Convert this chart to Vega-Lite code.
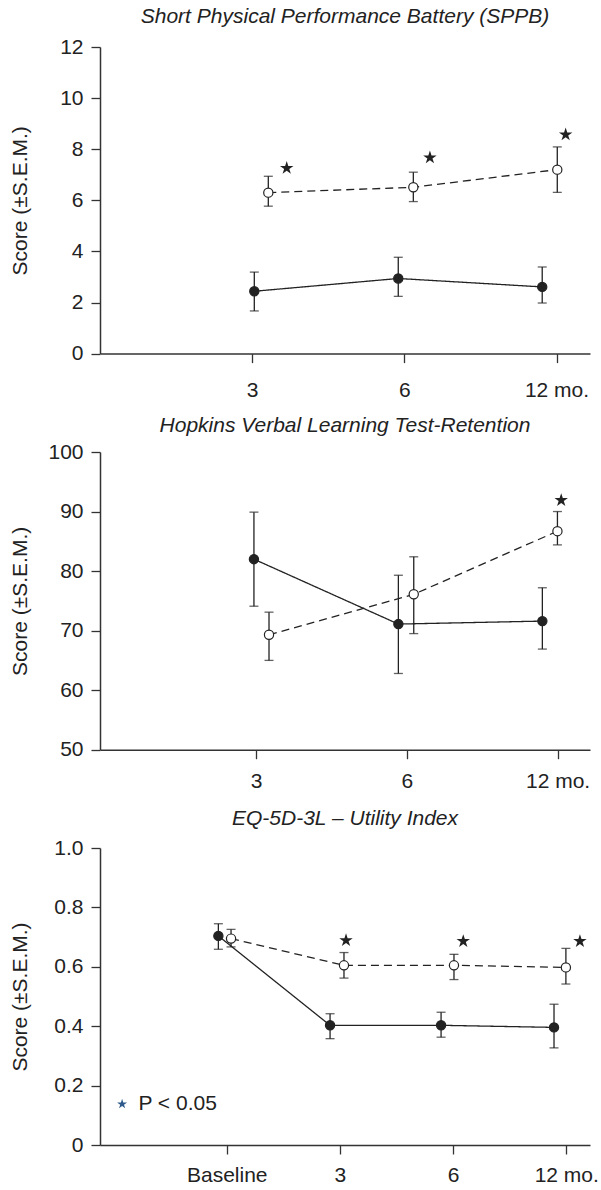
{
  "$schema": "https://vega.github.io/schema/vega-lite/v6.json",
  "background": "white",
  "padding": {"left": 9, "top": 5, "right": 5, "bottom": 0},
  "bounds": "flush",
  "spacing": 98,
  "config": {
    "font": "Liberation Sans",
    "view": {"stroke": null},
    "axis": {
      "grid": false,
      "domainColor": "#333333",
      "tickColor": "#333333",
      "domainWidth": 1.5,
      "tickWidth": 1.3,
      "tickSize": 9,
      "labelFont": "Liberation Sans",
      "titleFont": "Liberation Sans",
      "labelFontSize": 21,
      "titleFontSize": 21,
      "labelColor": "#222222",
      "titleColor": "#222222",
      "titleFontWeight": "normal"
    },
    "axisY": {"titleX": -74, "titleBaseline": "alphabetic", "labelPadding": 8},
    "axisX": {"labelFlush": false},
    "title": {"font": "Liberation Sans", "fontSize": 21, "fontStyle": "italic", "fontWeight": "normal", "color": "#222222", "anchor": "middle", "frame": "group"}
  },
  "resolve": {"scale": {"shape": "independent", "color": "independent"}, "legend": {"shape": "independent"}},
  "datasets": {
    "sppb": [
      {"g": "closed", "t": 1.014, "v": 2.44, "lo": 1.67, "hi": 3.19},
      {"g": "closed", "t": 1.960, "v": 2.94, "lo": 2.24, "hi": 3.77},
      {"g": "closed", "t": 2.906, "v": 2.61, "lo": 1.98, "hi": 3.39},
      {"g": "open", "t": 1.106, "v": 6.30, "lo": 5.77, "hi": 6.94},
      {"g": "open", "t": 2.059, "v": 6.51, "lo": 5.95, "hi": 7.10},
      {"g": "open", "t": 3.005, "v": 7.20, "lo": 6.31, "hi": 8.09}
    ],
    "sppb_sig": [
      {"t": 1.227, "v": 7.26},
      {"t": 2.168, "v": 7.67},
      {"t": 3.060, "v": 8.57}
    ],
    "hvlt": [
      {"g": "closed", "t": 0.986, "v": 82.0, "lo": 74.1, "hi": 89.9},
      {"g": "closed", "t": 1.944, "v": 71.1, "lo": 62.8, "hi": 79.3},
      {"g": "closed", "t": 2.899, "v": 71.6, "lo": 66.9, "hi": 77.2},
      {"g": "open", "t": 1.086, "v": 69.3, "lo": 65.0, "hi": 73.1},
      {"g": "open", "t": 2.046, "v": 76.1, "lo": 69.5, "hi": 82.4},
      {"g": "open", "t": 2.999, "v": 86.7, "lo": 84.4, "hi": 90.0}
    ],
    "hvlt_sig": [
      {"t": 3.024, "v": 91.9}
    ],
    "eq": [
      {"g": "closed", "t": -0.074, "v": 0.704, "lo": 0.659, "hi": 0.745},
      {"g": "closed", "t": 0.913, "v": 0.403, "lo": 0.358, "hi": 0.442},
      {"g": "closed", "t": 1.894, "v": 0.403, "lo": 0.363, "hi": 0.447},
      {"g": "closed", "t": 2.892, "v": 0.396, "lo": 0.327, "hi": 0.474},
      {"g": "open", "t": 0.038, "v": 0.695, "lo": 0.667, "hi": 0.726},
      {"g": "open", "t": 1.036, "v": 0.605, "lo": 0.562, "hi": 0.648},
      {"g": "open", "t": 2.008, "v": 0.605, "lo": 0.557, "hi": 0.642},
      {"g": "open", "t": 2.997, "v": 0.598, "lo": 0.542, "hi": 0.662}
    ],
    "eq_sig": [
      {"t": 1.054, "v": 0.689, "sig": "P < 0.05"},
      {"t": 2.090, "v": 0.686, "sig": "P < 0.05"},
      {"t": 3.121, "v": 0.686, "sig": "P < 0.05"}
    ]
  },
  "vconcat": [
    {
      "width": 490,
      "height": 306.6,
      "title": {"text": "Short Physical Performance Battery (SPPB)", "offset": 9.5},
      "data": {"name": "sppb"},
      "encoding": {
        "x": {"field": "t", "type": "quantitative", "scale": {"domain": [0, 3.22], "nice": false, "zero": false},
              "axis": {"values": [1, 2, 3], "labelExpr": "datum.value == 3 ? '12 mo.' : datum.value == 2 ? '6' : '3'", "title": null, "labelPadding": 17.3}},
        "y": {"field": "v", "type": "quantitative", "scale": {"domain": [0, 12], "nice": false, "zero": false},
              "axis": {"values": [0, 2, 4, 6, 8, 10, 12], "title": "Score (±S.E.M.)"}}
      },
      "layer": [
        {"mark": {"type": "line", "color": "#222222", "strokeWidth": 1.3},
         "encoding": {"strokeDash": {"field": "g", "type": "nominal", "scale": {"domain": ["closed", "open"], "range": [[1, 0], [8, 5]]}, "legend": null}}},
        {"mark": {"type": "errorbar", "ticks": {"size": 9, "thickness": 1.3, "color": "#222222"}, "rule": {"strokeWidth": 1.3, "color": "#222222"}},
         "encoding": {"y": {"field": "lo", "type": "quantitative"}, "y2": {"field": "hi"}}},
        {"mark": {"type": "point", "shape": "circle", "filled": true, "size": 85, "opacity": 1, "stroke": "#222222", "strokeWidth": 1.2},
         "encoding": {"fill": {"field": "g", "type": "nominal", "scale": {"domain": ["closed", "open"], "range": ["#222222", "#ffffff"]}, "legend": null}}},
        {"data": {"name": "sppb_sig"},
         "mark": {"type": "point", "shape": "M0,-1L0.225,-0.309L0.951,-0.309L0.363,0.118L0.588,0.809L0,0.382L-0.588,0.809L-0.363,0.118L-0.951,-0.309L-0.225,-0.309Z", "filled": true, "size": 200, "color": "#222222", "opacity": 1},
         "encoding": {}}
      ]
    },
    {
      "width": 490,
      "height": 297.7,
      "title": {"text": "Hopkins Verbal Learning Test-Retention", "offset": 5.1},
      "data": {"name": "hvlt"},
      "encoding": {
        "x": {"field": "t", "type": "quantitative", "scale": {"domain": [-0.035, 3.215], "nice": false, "zero": false},
              "axis": {"values": [1, 2, 3], "labelExpr": "datum.value == 3 ? '12 mo.' : datum.value == 2 ? '6' : '3'", "title": null, "labelPadding": 11.5}},
        "y": {"field": "v", "type": "quantitative", "scale": {"domain": [50, 100], "nice": false, "zero": false},
              "axis": {"values": [50, 60, 70, 80, 90, 100], "title": "Score (±S.E.M.)"}}
      },
      "layer": [
        {"mark": {"type": "line", "color": "#222222", "strokeWidth": 1.3},
         "encoding": {"strokeDash": {"field": "g", "type": "nominal", "scale": {"domain": ["closed", "open"], "range": [[1, 0], [8, 5]]}, "legend": null}}},
        {"mark": {"type": "errorbar", "ticks": {"size": 9, "thickness": 1.3, "color": "#222222"}, "rule": {"strokeWidth": 1.3, "color": "#222222"}},
         "encoding": {"y": {"field": "lo", "type": "quantitative"}, "y2": {"field": "hi"}}},
        {"mark": {"type": "point", "shape": "circle", "filled": true, "size": 85, "opacity": 1, "stroke": "#222222", "strokeWidth": 1.2},
         "encoding": {"fill": {"field": "g", "type": "nominal", "scale": {"domain": ["closed", "open"], "range": ["#222222", "#ffffff"]}, "legend": null}}},
        {"data": {"name": "hvlt_sig"},
         "mark": {"type": "point", "shape": "M0,-1L0.225,-0.309L0.951,-0.309L0.363,0.118L0.588,0.809L0,0.382L-0.588,0.809L-0.363,0.118L-0.951,-0.309L-0.225,-0.309Z", "filled": true, "size": 200, "color": "#222222", "opacity": 1},
         "encoding": {}}
      ]
    },
    {
      "width": 490,
      "height": 297,
      "title": {"text": "EQ-5D-3L – Utility Index", "offset": 8.5},
      "data": {"name": "eq"},
      "encoding": {
        "x": {"field": "t", "type": "quantitative", "scale": {"domain": [-1.12, 3.21], "nice": false, "zero": false},
              "axis": {"values": [0, 1, 2, 3], "labelExpr": "datum.value == 3 ? '12 mo.' : datum.value == 2 ? '6' : datum.value == 1 ? '3' : 'Baseline'", "title": null, "labelPadding": 10.7}},
        "y": {"field": "v", "type": "quantitative", "scale": {"domain": [0, 1], "nice": false, "zero": false},
              "axis": {"values": [0, 0.2, 0.4, 0.6, 0.8, 1], "labelExpr": "datum.value == 0 ? '0' : format(datum.value, '.1f')", "title": "Score (±S.E.M.)"}}
      },
      "layer": [
        {"mark": {"type": "line", "color": "#222222", "strokeWidth": 1.3},
         "encoding": {"strokeDash": {"field": "g", "type": "nominal", "scale": {"domain": ["closed", "open"], "range": [[1, 0], [8, 5]]}, "legend": null}}},
        {"mark": {"type": "errorbar", "ticks": {"size": 9, "thickness": 1.3, "color": "#222222"}, "rule": {"strokeWidth": 1.3, "color": "#222222"}},
         "encoding": {"y": {"field": "lo", "type": "quantitative"}, "y2": {"field": "hi"}}},
        {"mark": {"type": "point", "shape": "circle", "filled": true, "size": 85, "opacity": 1, "stroke": "#222222", "strokeWidth": 1.2},
         "encoding": {"fill": {"field": "g", "type": "nominal", "scale": {"domain": ["closed", "open"], "range": ["#222222", "#ffffff"]}, "legend": null}}},
        {"data": {"name": "eq_sig"},
         "mark": {"type": "point", "filled": true, "size": 200, "opacity": 1},
         "encoding": {
           "color": {"field": "sig", "type": "nominal", "scale": {"domain": ["P < 0.05"], "range": ["#222222"]}, "legend": null},
           "shape": {"field": "sig", "type": "nominal",
                     "scale": {"range": ["M0,-1L0.225,-0.309L0.951,-0.309L0.363,0.118L0.588,0.809L0,0.382L-0.588,0.809L-0.363,0.118L-0.951,-0.309L-0.225,-0.309Z"]},
                     "legend": {"title": null, "orient": "none", "legendX": 11.6, "legendY": 245.6, "padding": 0,
                                "labelFont": "Liberation Sans", "labelFontSize": 21, "labelColor": "#222222", "labelOffset": 5.8,
                                "symbolSize": 110, "symbolStrokeWidth": 0, "symbolFillColor": "#2e5a8c", "symbolStrokeColor": "#2e5a8c", "symbolOpacity": 1}}
         }}
      ]
    }
  ]
}
